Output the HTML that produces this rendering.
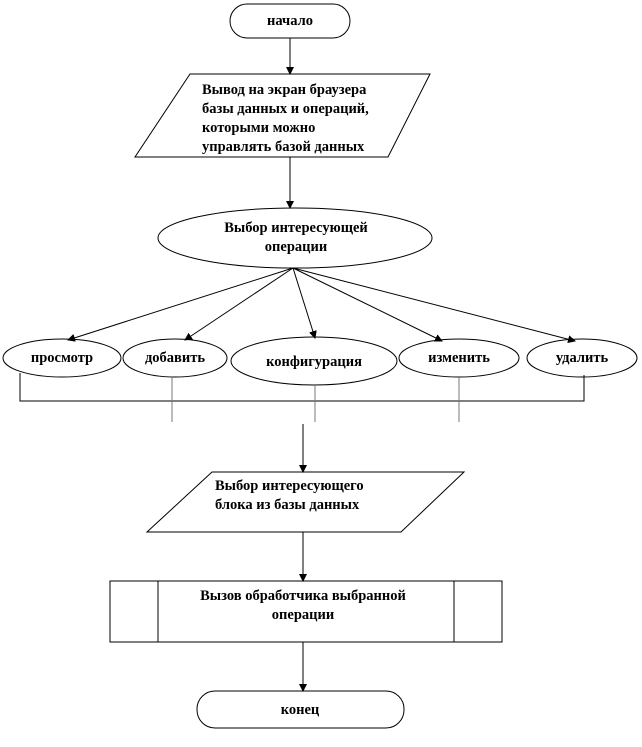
<html><body style="margin:0;background:#fff">
<svg width="642" height="747" viewBox="0 0 642 747" xmlns="http://www.w3.org/2000/svg" style="font-family:'Liberation Serif',serif;font-weight:bold;font-size:14.5px">
<defs><marker id="a" markerWidth="8" markerHeight="8" refX="7" refY="4" orient="auto" markerUnits="userSpaceOnUse"><path d="M0,0 L8,4 L0,8z" fill="#000"/></marker></defs>
<g fill="none" stroke="#000" stroke-width="1">
<rect x="230" y="4" width="120" height="34" rx="17"/>
<line x1="290" y1="38" x2="290" y2="74" marker-end="url(#a)"/>
<polygon points="190,74 430,74 388,157 135,157"/>
<line x1="290" y1="157" x2="290" y2="208" marker-end="url(#a)"/>
<ellipse cx="295" cy="238" rx="137" ry="30"/>
<line x1="293" y1="268" x2="68" y2="340" marker-end="url(#a)"/>
<line x1="293" y1="268" x2="185" y2="340" marker-end="url(#a)"/>
<line x1="293" y1="268" x2="315" y2="338" marker-end="url(#a)"/>
<line x1="293" y1="268" x2="442" y2="341" marker-end="url(#a)"/>
<line x1="293" y1="268" x2="575" y2="341" marker-end="url(#a)"/>
<ellipse cx="62" cy="358" rx="59" ry="19"/>
<ellipse cx="175" cy="358" rx="52" ry="19"/>
<ellipse cx="314" cy="361" rx="83" ry="24"/>
<ellipse cx="459" cy="358" rx="60" ry="19"/>
<ellipse cx="582" cy="358" rx="55" ry="19"/>
<polyline points="20,373 20,401 584,401 584,375"/>
<g stroke="#777"><line x1="172" y1="377" x2="172" y2="422"/><line x1="315" y1="385" x2="315" y2="422"/><line x1="459" y1="377" x2="459" y2="422"/></g>
<line x1="303" y1="424" x2="303" y2="472" marker-end="url(#a)"/>
<polygon points="212,472 464,472 401,532 147,532"/>
<line x1="303" y1="532" x2="303" y2="581" marker-end="url(#a)"/>
<rect x="110" y="581" width="392" height="61"/>
<line x1="158" y1="581" x2="158" y2="642"/><line x1="454" y1="581" x2="454" y2="642"/>
<line x1="303" y1="642" x2="303" y2="691" marker-end="url(#a)"/>
<rect x="197" y="691" width="207" height="37" rx="18"/>
</g>
<g fill="#000">
<text x="290" y="25" text-anchor="middle">начало</text>
<text x="202" y="94">Вывод на экран браузера</text>
<text x="202" y="113">базы данных и операций,</text>
<text x="202" y="132">которыми можно</text>
<text x="202" y="151">управлять базой данных</text>
<text x="296" y="232" text-anchor="middle">Выбор интересующей</text>
<text x="296" y="251" text-anchor="middle">операции</text>
<text x="62" y="362" text-anchor="middle">просмотр</text>
<text x="175" y="362" text-anchor="middle">добавить</text>
<text x="314" y="366" text-anchor="middle">конфигурация</text>
<text x="459" y="362" text-anchor="middle">изменить</text>
<text x="582" y="362" text-anchor="middle">удалить</text>
<text x="215" y="490">Выбор интересующего</text>
<text x="215" y="509">блока из базы данных</text>
<text x="303" y="600" text-anchor="middle">Вызов обработчика выбранной</text>
<text x="303" y="619" text-anchor="middle">операции</text>
<text x="300" y="714" text-anchor="middle">конец</text>
</g>
</svg>
</body></html>
